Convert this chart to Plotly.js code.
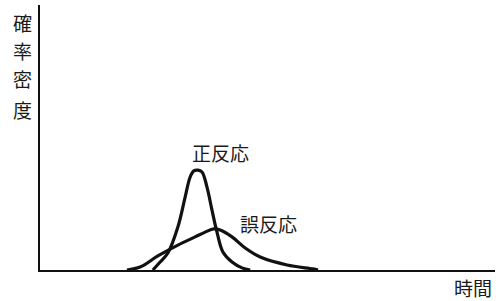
<!DOCTYPE html>
<html>
<head>
<meta charset="utf-8">
<script src="https://cdn.plot.ly/plotly-3.0.1.min.js"></script>
<style>html,body{margin:0;padding:0;background:#fff;}</style>
</head>
<body>
<div id="chart" style="width:496px;height:301px;"></div>
<script>
// 正反応 (correct response) density curve
const correctTime = [24.8, 26.4, 28.1, 30.3, 31.9, 33.0, 33.8, 34.7, 35.6, 36.7, 37.8, 38.9, 40.2, 42.2, 44.4, 46.2];
const correctDensity = [0, 3.0, 6.4, 16.2, 27.5, 35.1, 37.4, 37.7, 37.0, 31.3, 22.6, 14.3, 6.8, 3.0, 0.8, 0];
// 誤反応 (error response) density curve
const errorTime = [19.1, 22.0, 25.9, 30.3, 34.1, 36.3, 38.2, 39.6, 42.2, 45.1, 48.4, 54.3, 60.0, 61.1];
const errorDensity = [0, 1.1, 5.3, 9.4, 12.5, 14.3, 15.5, 15.1, 12.5, 8.3, 4.9, 1.9, 0.4, 0];
// labels
const seriesLabels = ["正反応", "誤反応"];
const yLabelChars = ["確", "率", "密", "度"];
const xLabel = "時間";

const FONT = "Noto Sans CJK JP, Noto Sans, sans-serif";
const TXT = {family: FONT, size: 19, color: "#1a1a1a"};

const traces = [
  {x: correctTime, y: correctDensity, mode: "lines", type: "scatter", name: seriesLabels[0],
   line: {color: "#111", width: 3.2, shape: "spline", smoothing: 1.0}, cliponaxis: false, hoverinfo: "skip"},
  {x: errorTime, y: errorDensity, mode: "lines", type: "scatter", name: seriesLabels[1],
   line: {color: "#111", width: 3.2, shape: "spline", smoothing: 1.0}, cliponaxis: false, hoverinfo: "skip"}
];

const plotL = 40, plotR = 495, plotT = 5, plotB = 270;
function px2paperX(px) { return (px - plotL) / (plotR - plotL); }
function py2paperY(py) { return (plotB - py) / (plotB - plotT); }

const annotations = [
  {x: 39.6, y: 44.5, xref: "x", yref: "y", text: seriesLabels[0], showarrow: false,
   xanchor: "center", yanchor: "middle", font: TXT},
  {x: 50.3, y: 17.4, xref: "x", yref: "y", text: seriesLabels[1], showarrow: false,
   xanchor: "center", yanchor: "middle", font: TXT},
  {x: px2paperX(473), y: py2paperY(287), xref: "paper", yref: "paper", text: xLabel, showarrow: false,
   xanchor: "center", yanchor: "middle", font: TXT}
];
const yCharCenters = [22.5, 51, 78, 109];
yLabelChars.forEach((c, i) => {
  annotations.push({x: px2paperX(22), y: py2paperY(yCharCenters[i]), xref: "paper", yref: "paper",
    text: c, showarrow: false, xanchor: "center", yanchor: "middle", font: TXT});
});

const layout = {
  width: 496, height: 301,
  margin: {l: plotL, r: 496 - plotR, t: plotT, b: 301 - plotB, pad: 0},
  paper_bgcolor: "#fff", plot_bgcolor: "#fff",
  showlegend: false,
  xaxis: {range: [0, 100], showline: true, linecolor: "#111", linewidth: 2, showgrid: false,
          zeroline: false, showticklabels: false, ticks: "", fixedrange: true},
  yaxis: {range: [0, 100], showline: true, linecolor: "#111", linewidth: 2, showgrid: false,
          zeroline: false, showticklabels: false, ticks: "", fixedrange: true},
  annotations: annotations
};

Plotly.newPlot("chart", traces, layout, {staticPlot: true, displayModeBar: false});
</script>
</body>
</html>
